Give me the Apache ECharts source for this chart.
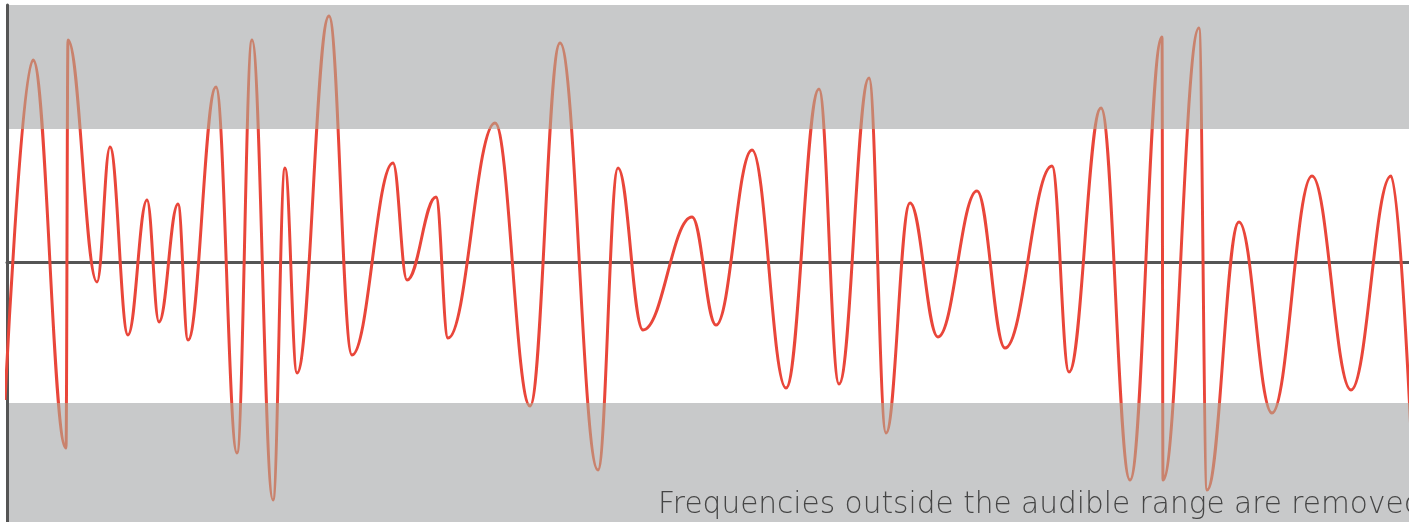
<!DOCTYPE html>
<html>
<head>
<meta charset="utf-8">
<script src="https://cdn.jsdelivr.net/npm/echarts@6/dist/echarts.min.js"></script>
<style>
  html, body { margin: 0; padding: 0; background: #fff; }
  #chart { width: 1409px; height: 522px; }
</style>
</head>
<body>
<div id="chart"></div>
<script>
  // waveform: peaks and troughs (x position, amplitude)
  var waveX = [5, 33, 66, 68, 97, 110, 128, 147, 159, 178, 188, 216, 237, 252, 273, 285, 297, 329, 352, 393,
    407, 436, 448, 495, 530, 560, 598, 618, 643, 692, 716, 752, 786, 819, 839, 869, 886, 910, 938, 977,
    1005, 1052, 1069, 1101, 1130, 1162, 1163, 1199, 1207, 1239, 1272, 1312, 1351, 1391, 1413];
  var waveAmp = [-138, 202, -186, 222, -20, 115, -73, 62, -60, 58, -78, 175, -191, 222, -238, 94, -111, 246, -93, 99,
    -18, 65, -76, 139, -144, 219, -208, 94, -68, 45, -63, 112, -126, 173, -122, 184, -171, 59, -75, 71,
    -86, 96, -110, 154, -218, 225, -218, 234, -228, 40, -151, 86, -128, 86, -215];

  // audible range (white band) limits
  var bandTop = 133;
  var bandBottom = -141;
  var axisMin = -260;
  var axisMax = 257;

  var caption = 'Frequencies outside the audible range are removed';

  var waveData = waveX.map(function (x, i) { return [x, waveAmp[i]]; });

  var myChart = echarts.init(document.getElementById('chart'));
  myChart.setOption({
    animation: false,
    grid: { left: 7, right: 0, top: 5, bottom: 0 },
    xAxis: {
      type: 'value',
      min: 7,
      max: 1409,
      z: 2,
      axisLine: { show: true, onZero: true, lineStyle: { color: '#555555', width: 3 } },
      axisTick: { show: false },
      axisLabel: { show: false },
      splitLine: { show: false }
    },
    yAxis: {
      type: 'value',
      min: axisMin,
      max: axisMax,
      z: 2,
      axisLine: { show: true, onZero: false, lineStyle: { color: '#555555', width: 3 } },
      axisTick: { show: false },
      axisLabel: { show: false },
      splitLine: { show: false }
    },
    visualMap: {
      show: false,
      type: 'piecewise',
      seriesIndex: 1,
      dimension: 1,
      pieces: [
        { gt: bandTop, color: '#c9826d' },
        { gte: bandBottom, lte: bandTop, color: '#e9463a' },
        { lt: bandBottom, color: '#c9826d' }
      ]
    },
    series: [
      {
        name: 'bands',
        type: 'line',
        z: 1,
        silent: true,
        data: [],
        markArea: {
          silent: true,
          itemStyle: { color: '#c8c9ca' },
          data: [
            [{ yAxis: bandTop }, { yAxis: axisMax }],
            [{ yAxis: axisMin }, { yAxis: bandBottom }]
          ]
        }
      },
      {
        name: 'wave',
        type: 'line',
        z: 3,
        smooth: 0.4,
        smoothMonotone: 'x',
        showSymbol: false,
        lineStyle: { width: 3 },
        data: waveData
      }
    ],
    graphic: [{
      type: 'text',
      left: 658,
      top: 490,
      z: 10,
      style: {
        text: caption,
        font: '200 29.6px "DejaVu Sans"',
        fill: '#454545'
      }
    }]
  });
</script>
</body>
</html>
